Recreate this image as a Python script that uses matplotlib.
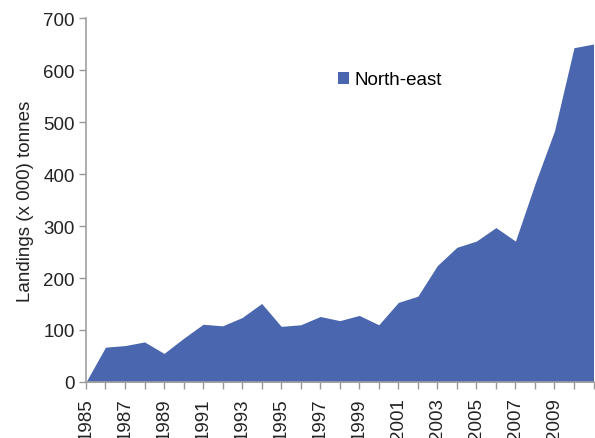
import matplotlib
matplotlib.use("Agg")
import matplotlib.pyplot as plt

years = list(range(1985, 2012))
landings = [0, 67, 70, 77, 55, 84, 111, 108, 124, 151, 107, 110, 126, 118, 128,
            110, 153, 165, 224, 259, 271, 297, 271, 381, 483, 643, 650]
tick_years = list(range(1985, 2010, 2))
y_ticks = [0, 100, 200, 300, 400, 500, 600, 700]

plt.rcParams["font.family"] = ["Liberation Sans", "DejaVu Sans"]

fig = plt.figure(figsize=(5.95, 4.39), dpi=100)
ax = fig.add_axes([0.1445, 0.1276, 0.853, 0.829])

fill_color = "#4a66ae"
ax.fill_between(years, landings, 0, color=fill_color, linewidth=0, label="North-east")

ax.set_xlim(1985, 2011)
ax.set_ylim(0, 700)
ax.set_yticks(y_ticks)
ax.set_xticks(years)
ax.set_xticklabels([str(y) if y in tick_years else "" for y in years],
                   rotation=90, fontsize=13.5, color="#222222")
ax.tick_params(axis="y", labelsize=13.5, colors="#999999", labelcolor="#222222",
               length=5, width=1, pad=3)
ax.tick_params(axis="x", colors="#999999", labelcolor="#222222",
               length=5, width=1, pad=6)

for side in ["top", "right"]:
    ax.spines[side].set_visible(False)
for side in ["left", "bottom"]:
    ax.spines[side].set_color("#a0a0a0")
    ax.spines[side].set_linewidth(1.2)

ax.set_ylabel("Landings (x 000) tonnes", fontsize=13.5, color="#222222", labelpad=7)

leg = ax.legend(loc="center left", bbox_to_anchor=(0.463, 0.83), frameon=False,
                fontsize=13.5, handlelength=0.6, handleheight=0.6, handletextpad=0.3)

fig.savefig("out.png", dpi=100)
